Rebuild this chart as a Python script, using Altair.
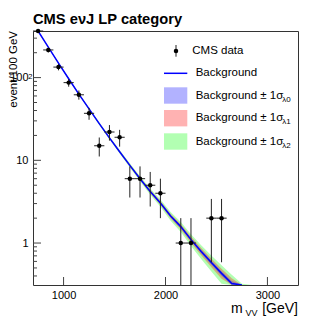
import altair as alt
import numpy as np
import pandas as pd

FONT = "Liberation Sans"

# ---- CMS data (100 GeV bins, bin centres) ----
data_mass = [750, 850, 950, 1050, 1150, 1250, 1350, 1450, 1550, 1650, 1750, 1850,
             1950, 2150, 2250, 2450, 2550]
data_counts = [366, 216, 134, 87, 62, 37, 15, 22, 19, 6, 6, 5, 4, 1, 1, 2, 2]
bin_width = 100

# ---- background fit curve ----
bkg_mass = [750, 850, 950, 1050, 1150, 1250, 1350, 1450, 1550, 1650, 1750, 1850,
            1950, 2050, 2150, 2250, 2350, 2450, 2550, 2650, 2750]
bkg_value = [366, 233, 150, 96.8, 63.2, 41.8, 27.8, 18.7, 12.7, 8.7, 6.0, 4.2,
             3.05, 2.12, 1.58, 1.1, 0.79, 0.58, 0.43, 0.324, 0.245]

# ---- uncertainty bands (relative half widths) ----
band_mass = bkg_mass + [2850]
band_center = bkg_value + [0.186]
unc_l2 = [0.012, 0.015, 0.018, 0.022, 0.026, 0.03, 0.035, 0.04, 0.05, 0.06, 0.07,
          0.085, 0.10, 0.12, 0.14, 0.16, 0.19, 0.22, 0.25, 0.28, 0.31, 0.34]
unc_l1 = [0.006, 0.008, 0.01, 0.012, 0.014, 0.016, 0.019, 0.022, 0.027, 0.033, 0.038,
          0.046, 0.055, 0.066, 0.077, 0.088, 0.10, 0.12, 0.14, 0.155, 0.17, 0.19]
unc_l0 = [0.003, 0.004, 0.005, 0.006, 0.007, 0.008, 0.009, 0.01, 0.012, 0.015, 0.018,
          0.021, 0.025, 0.03, 0.035, 0.04, 0.048, 0.055, 0.062, 0.07, 0.078, 0.085]

x_ticks = [1000, 2000, 3000]
y_major = [1, 10, 100]
y_minor = [0.4, 0.5, 0.6, 0.7, 0.8, 0.9, 2, 3, 4, 5, 6, 7, 8, 9,
           20, 30, 40, 50, 60, 70, 80, 90, 200, 300]

W, H = 265, 254

# ---- tables ----
n = np.array(data_counts, dtype=float)
err = np.sqrt(n)
ddf = pd.DataFrame({
    "m": data_mass, "n": n,
    "lo": np.maximum(n - err, 0.01), "hi": n + err,
    "xlo": np.array(data_mass) - bin_width / 2, "xhi": np.array(data_mass) + bin_width / 2,
})
bdf = pd.DataFrame({"m": bkg_mass, "v": bkg_value})
c = np.array(band_center)
band = pd.DataFrame({"m": band_mass})
for name, u in [("l2", unc_l2), ("l1", unc_l1), ("l0", unc_l0)]:
    band["lo_" + name] = c * (1 - np.array(u))
    band["hi_" + name] = c * (1 + np.array(u))

xscale = alt.Scale(domain=[700, 3300], zero=False, nice=False)
yscale = alt.Scale(type="log", domain=[0.311, 366], nice=False, clamp=True)
xaxis = alt.Axis(values=x_ticks, format="d", grid=False, ticks=False, tickSize=0,
                 domain=False, title=None, labelFont=FONT, labelFontSize=11,
                 labelColor="#000", labelPadding=4)
yaxis = alt.Axis(values=y_major, grid=False, ticks=False, tickSize=0, domain=False,
                 title=None, labelFont=FONT, labelFontSize=11, labelColor="#000",
                 labelPadding=5)


def X(f):
    return alt.X(f, type="quantitative", scale=xscale, axis=xaxis)


def Y(f):
    return alt.Y(f, type="quantitative", scale=yscale, axis=yaxis)


layers = []
for name, col in [("l2", "#00ff00"), ("l1", "#ff0000"), ("l0", "#0000ff")]:
    layers.append(alt.Chart(band).mark_area(color=col, opacity=0.3, clip=True).encode(
        x=X("m"), y=Y("lo_" + name), y2="hi_" + name))

layers.append(alt.Chart(bdf).mark_line(color="#0000ff", strokeWidth=1.5, clip=True).encode(
    x=X("m"), y=Y("v")))
layers.append(alt.Chart(ddf).mark_rule(color="#222", strokeWidth=1).encode(
    x=X("m"), y=Y("lo"), y2="hi"))
layers.append(alt.Chart(ddf).mark_rule(color="#222", strokeWidth=1).encode(
    x=X("xlo"), x2="xhi", y=Y("n")))
layers.append(alt.Chart(ddf).mark_circle(color="#000", size=20, opacity=1).encode(
    x=X("m"), y=Y("n")))

# axis ticks (inward, ROOT style)
layers.append(alt.Chart(pd.DataFrame({"t": x_ticks})).mark_rule(color="#444").encode(
    x=X("t"), y=alt.value(H), y2=alt.value(H - 8)))
layers.append(alt.Chart(pd.DataFrame({"t": y_major})).mark_rule(color="#444").encode(
    y=Y("t"), x=alt.value(0), x2=alt.value(8)))
layers.append(alt.Chart(pd.DataFrame({"t": y_minor})).mark_rule(color="#444").encode(
    y=Y("t"), x=alt.value(0), x2=alt.value(4)))
# exponent of the 10^2 label
layers.append(alt.Chart(pd.DataFrame({"t": [100]})).mark_text(
    text="2", align="left", baseline="alphabetic", fontSize=7.5, font=FONT,
    color="#000", dy=1.5).encode(y=Y("t"), x=alt.value(-4.7)))

dummy = pd.DataFrame({"a": [0]})


def text(t, x, y, size, align="left", baseline="middle", **kw):
    return alt.Chart(dummy).mark_text(text=t, align=align, baseline=baseline,
                                      fontSize=size, font=FONT, color="#000", **kw).encode(
        x=alt.value(x), y=alt.value(y))


# titles
layers.append(text("CMS e\u03bdJ LP category", 0, -7, 14.7, baseline="alphabetic",
                   fontWeight="bold"))
layers.append(text("event/100 GeV", -16.5, 0, 11.5, align="right", baseline="alphabetic",
                   angle=270))
layers.append(text("m", 198, 282, 14, baseline="alphabetic"))
layers.append(text("VV", 212.5, 284.5, 9, baseline="alphabetic"))
layers.append(text("[GeV]", 265, 282, 14, align="right", baseline="alphabetic"))

# legend
layers.append(alt.Chart(dummy).mark_rule(color="#222").encode(
    x=alt.value(143), y=alt.value(14), y2=alt.value(25.7)))
layers.append(alt.Chart(dummy).mark_circle(color="#000", size=20, opacity=1).encode(
    x=alt.value(143), y=alt.value(20)))
layers.append(text("CMS data", 159.3, 20, 11.5))
layers.append(alt.Chart(dummy).mark_rule(color="#0000ff", strokeWidth=1.5).encode(
    x=alt.value(131), x2=alt.value(154.3), y=alt.value(42.3)))
layers.append(text("Background", 162.7, 42, 11.5))
for col, y0, sub in [("#0000ff", 56.3, "\u03bb0"), ("#ff0000", 79.0, "\u03bb1"),
                     ("#00ff00", 102.3, "\u03bb2")]:
    layers.append(alt.Chart(dummy).mark_rect(color=col, opacity=0.3).encode(
        x=alt.value(131), x2=alt.value(154.3), y=alt.value(y0), y2=alt.value(y0 + 16.4)))
    layers.append(text("Background \u00b1 1\u03c3", 162.7, y0 + 8.2, 11.5))
    layers.append(text(sub, 249.3, y0 + 12.2, 8))

chart = alt.layer(*layers).properties(
    width=W, height=H,
    autosize=alt.AutoSizeParams(type="none"),
    padding={"left": 25, "top": 23, "right": 20, "bottom": 32},
).configure_view(stroke="#333", strokeWidth=1, fill="white")

chart.save("out.html", embed_options={"renderer": "svg", "actions": False})
